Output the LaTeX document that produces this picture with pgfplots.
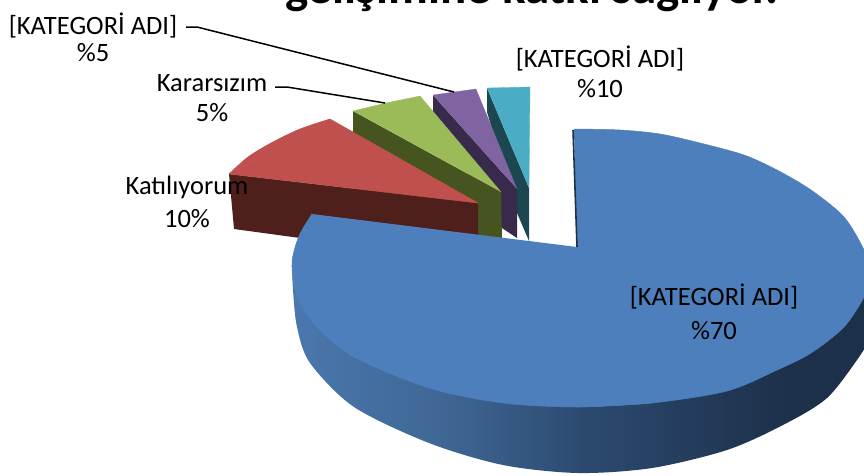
\documentclass[border=0pt]{standalone}
\usepackage{pgfplots}
\pgfplotsset{compat=1.18}
\usepackage{fontspec}
\setmainfont{Carlito}
\definecolor{sa}{HTML}{4A77AE}
\definecolor{sb}{HTML}{3F6795}
\definecolor{sc}{HTML}{2C4A70}
\definecolor{sd}{HTML}{1C3049}
\definecolor{se}{HTML}{1C3049}
\pgfdeclarehorizontalshading{pieside}{100bp}{color(0bp)=(sa); color(25bp)=(sa); color(38bp)=(sb); color(50bp)=(sc); color(68bp)=(sd); color(75bp)=(se); color(100bp)=(se)}
\definecolor{blue1}{HTML}{4D7FBC}
\definecolor{red1}{HTML}{C0504D}
\definecolor{red2}{HTML}{4F1F1C}
\definecolor{green1}{HTML}{9BBB59}
\definecolor{green2}{HTML}{46551F}
\definecolor{purple1}{HTML}{8064A2}
\definecolor{purple2}{HTML}{372A4B}
\definecolor{cyan1}{HTML}{4BACC6}
\definecolor{cyan2}{HTML}{1C4650}
\newcommand{\lab}{\fontsize{26.5}{30}\selectfont}
\begin{document}
\begin{tikzpicture}
\clip (0,0) rectangle (864pt,475pt);
\begin{axis}[at={(0,0)},anchor=south west,scale only axis,width=864pt,height=475pt,
  axis lines=none,xmin=0,xmax=864,ymin=0,ymax=475,y dir=reverse,clip=true]
% cyan wedge
\addplot[fill=cyan2,draw=none,forget plot] coordinates {(487,88)(529,188)(529,241)(517,213)(487,112)};
\addplot[fill=cyan1,draw=cyan1,line width=0.3pt,forget plot] coordinates {(487,88)(530,87)(529,188)};
% purple wedge
\addplot[fill=purple2,draw=none,forget plot] coordinates {(433,95)(517,189)(517,238)(502,228)(433,120)};
\addplot[fill=purple1,draw=purple1,line width=0.3pt,forget plot] coordinates {(433,95)(476,89)(517,189)};
% green wedge
\addplot[fill=green2,draw=none,forget plot] coordinates {(353,111)(501,192)(502,240)(353,240)};
\addplot[fill=green1,draw=green1,line width=0.3pt,forget plot] coordinates {(353,111)(386,103)(420,96)(501,192)};
% red wedge
\addplot[fill=red2,draw=none,forget plot] coordinates {(229,174)(478,203)(478,245)(300,238)(234,229)};
\addplot[fill=red1,draw=red1,line width=0.5pt,forget plot] coordinates {(229,174)(330,119)(478,203)(229,174)};
\addplot[fill=red1,draw=red1,line width=0.5pt,smooth,forget plot] coordinates {(229,174)(248,157)(271,143)(300,129)(330,119)};
% blue pie
\addplot[shading=pieside,draw=none,smooth,forget plot] coordinates {(292,263)(293,290)(297,327)(310,363)(354,407)(429,443)(503,465)(578,473)(652,468)(727,450)(783,425)(827,398)(859,357)(872,335)};
\addplot[fill=se,draw=none,forget plot] coordinates {(800,340)(872,280)(872,335)(859,357)(827,398)};
\addplot[fill=blue1,draw=blue1,line width=0.5pt,smooth,forget plot] coordinates {(574,129)(620,130)(660,134)(700,143)(744,155)(777,170)(811,190)(844,217)(864,250)(872,275)(864,297)(844,327)(811,353)(777,370)(727,391)(652,403)(580,407)};
\addplot[fill=blue1,draw=blue1,line width=0.5pt,smooth,forget plot] coordinates {(652,403)(578,407)(503,403)(429,388)(354,357)(317,327)(297,297)(292,263)(299,236)(312,214)};
\addplot[fill=blue1,draw=none,forget plot] coordinates {(312,214)(577,247)(610,300)(610,400)(500,380)(340,290)};
\addplot[draw=sd,line width=1.6pt,forget plot] coordinates {(573,130)(577,247)};
% leader lines
\addplot[black,line width=1.5pt,forget plot] coordinates {(186,27)(197,27)(454,92)};
\addplot[black,line width=1.5pt,forget plot] coordinates {(275,87)(287,87)(385,103)};
% labels
\node[inner sep=0pt,font=\lab] at (axis cs:93,25) {[KATEGORİ ADI]};
\node[inner sep=0pt,font=\lab] at (axis cs:93,53) {\%5};
\node[inner sep=0pt,font=\lab] at (axis cs:212,83) {Kararsızım};
\node[inner sep=0pt,font=\lab] at (axis cs:212,113) {5\%};
\node[inner sep=0pt,font=\lab] at (axis cs:187,187) {Katılıyorum};
\node[inner sep=0pt,font=\lab] at (axis cs:187,219) {10\%};
\node[inner sep=0pt,font=\lab] at (axis cs:600,58) {[KATEGORİ ADI]};
\node[inner sep=0pt,font=\lab] at (axis cs:600,89) {\%10};
\node[inner sep=0pt,font=\lab] at (axis cs:714,296) {[KATEGORİ ADI]};
\node[inner sep=0pt,font=\lab] at (axis cs:714,331) {\%70};
\node[anchor=base,inner sep=0pt,font=\fontsize{49}{53}\selectfont\bfseries] at (axis cs:532,3.5) {gelişimine katkı sağlıyor.};
\end{axis}
\end{tikzpicture}
\end{document}
